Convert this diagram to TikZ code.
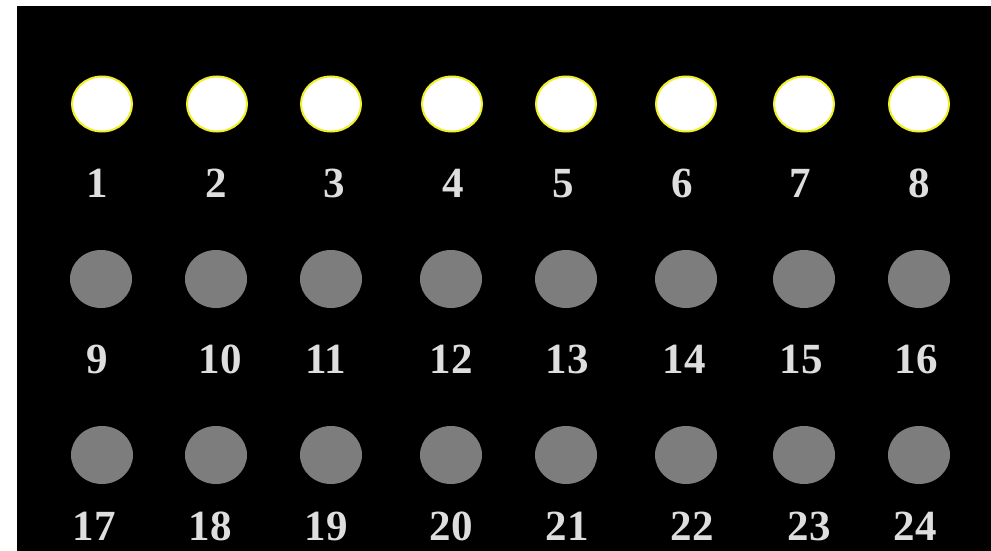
\documentclass[tikz,border=0pt]{standalone}
\usepackage{fontspec}
\setmainfont{Liberation Serif}
\usetikzlibrary{shapes.geometric}
\definecolor{lampgrey}{RGB}{125,125,125}
\definecolor{numgrey}{RGB}{222,222,222}
\definecolor{glow}{RGB}{240,240,40}
\tikzset{
    lit/.style={ellipse, fill=white, draw=glow, line width=2pt, minimum width=60pt, minimum height=55pt, inner sep=0pt},
    unlit/.style={ellipse, fill=lampgrey, minimum width=62pt, minimum height=58pt, inner sep=0pt},
    num/.style={text=numgrey, font=\bfseries\fontsize{43}{43}\selectfont, inner sep=0pt, text depth=0pt, anchor=base},
    common settings/.style={x=1pt, y=-1pt}
}

\begin{document}
\begin{tikzpicture}[common settings]

    % 1. Page and black panel
    \useasboundingbox (0,0) rectangle (991,551);
    \fill[white] (0,0) rectangle (991,551);
    \fill[black] (17,6) rectangle (991,551);

    % 2. Top row: lit lamps 1-8
    \foreach \cx/\lx [count=\i] in {102/97.5, 217/216, 331/334, 452/453, 566/563, 686/682, 804/800, 919/919} {
        \node[lit] (lamp\i) at (\cx,104) {};
        \node[num] (num\i) at (\lx,197) {\i};
    }

    % 3. Middle row: dark lamps 9-16
    \foreach \cx/\lx [count=\i from 9] in {101/97, 216/220, 331/326, 451/451, 566/567, 686/684, 804/801, 919/916} {
        \node[unlit] (lamp\i) at (\cx,279) {};
        \node[num] (num\i) at (\lx,373) {\i};
    }

    % 4. Bottom row: dark lamps 17-24
    \foreach \cx/\lx [count=\i from 17] in {102/94, 216/210, 331/326, 451/451, 566/567, 686/692, 804/809, 919/915} {
        \node[unlit] (lamp\i) at (\cx,455) {};
        \node[num] (num\i) at (\lx,540) {\i};
    }

\end{tikzpicture}
\end{document}
